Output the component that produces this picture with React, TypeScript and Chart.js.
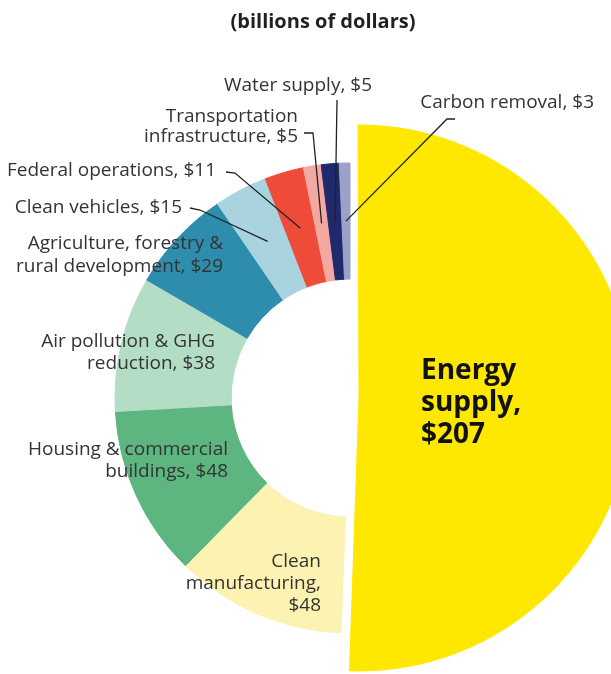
import React, { useEffect, useRef } from "react";
import { Chart, registerables } from "chart.js";

Chart.register(...registerables);

// ---- data ----
const categories = [
  "Energy supply",
  "Clean manufacturing",
  "Housing & commercial buildings",
  "Air pollution & GHG reduction",
  "Agriculture, forestry & rural development",
  "Clean vehicles",
  "Federal operations",
  "Transportation infrastructure",
  "Water supply",
  "Carbon removal",
];
const values = [207, 48, 48, 38, 29, 15, 11, 5, 5, 3];
const colors = [
  "#FFE800",
  "#FCF2B1",
  "#5DB67F",
  "#B3DDC5",
  "#2E8DAD",
  "#A8D3DF",
  "#EE4B39",
  "#F3A8A1",
  "#1F2A6C",
  "#9BA1C9",
];
const title = "(billions of dollars)";

const $ = (i: number) => "$" + values[i];
const labelLines: string[][] = [
  ["Energy", "supply,", $(0)],
  ["Clean", "manufacturing,", $(1)],
  ["Housing & commercial", "buildings, " + $(2)],
  ["Air pollution & GHG", "reduction, " + $(3)],
  ["Agriculture, forestry &", "rural development, " + $(4)],
  ["Clean vehicles, " + $(5)],
  ["Federal operations, " + $(6)],
  ["Transportation", "infrastructure, " + $(7)],
  ["Water supply, " + $(8)],
  ["Carbon removal, " + $(9)],
];

// ---- layout of labels (positions only) ----
type LabelLayout = {
  x: number;
  y: number;
  align: CanvasTextAlign;
  lh?: number;
  bold?: boolean;
  size?: number;
  leader?: number[][];
};
const labelLayout: LabelLayout[] = [
  { x: 421, y: 379, align: "left", bold: true, size: 28, lh: 32 },
  { x: 321, y: 567, align: "right", lh: 22 },
  { x: 228, y: 455, align: "right", lh: 22 },
  { x: 215, y: 347, align: "right", lh: 22 },
  { x: 223, y: 249, align: "right", lh: 23 },
  { x: 182, y: 213, align: "right", leader: [[190, 208], [200, 210]] },
  { x: 216, y: 176, align: "right", leader: [[226, 172], [235, 173]] },
  { x: 298, y: 122, align: "right", lh: 20, leader: [[304, 133], [313, 133]] },
  { x: 372, y: 91, align: "right", leader: [[337, 100]] },
  { x: 594, y: 108, align: "right", leader: [[455, 119], [447, 119]] },
];

const FONT = "'Open Sans', 'DejaVu Sans', sans-serif";
const TEXT = "#333333";

const labelPlugin = {
  id: "sliceLabels",
  afterDraw(chart: any) {
    const ctx: CanvasRenderingContext2D = chart.ctx;
    const meta = chart.getDatasetMeta(0);
    ctx.save();
    ctx.textBaseline = "alphabetic";
    // title
    ctx.font = "bold 20px " + FONT;
    ctx.fillStyle = "#231F20";
    ctx.textAlign = "center";
    ctx.fillText(title, 323, 28);

    labelLayout.forEach((L, i) => {
      if (L.leader) {
        const p = meta.data[i].getCenterPoint();
        ctx.beginPath();
        ctx.strokeStyle = "#222222";
        ctx.lineWidth = 1.3;
        ctx.moveTo(L.leader[0][0], L.leader[0][1]);
        for (let k = 1; k < L.leader.length; k++) ctx.lineTo(L.leader[k][0], L.leader[k][1]);
        ctx.lineTo(p.x, p.y);
        ctx.stroke();
      }
      const size = L.size || 19;
      ctx.font = (L.bold ? "bold " : "") + size + "px " + FONT;
      ctx.fillStyle = L.bold ? "#111111" : TEXT;
      ctx.textAlign = L.align;
      labelLines[i].forEach((line, k) => {
        ctx.fillText(line, L.x, L.y + k * (L.lh || 22));
      });
    });
    ctx.restore();
  },
};

const TRANSPARENT = "rgba(0,0,0,0)";

export default function App() {
  const refA = useRef<HTMLCanvasElement>(null);
  const refB = useRef<HTMLCanvasElement>(null);

  useEffect(() => {
    const yellowColors = colors.map((c, i) => (i === 0 ? c : TRANSPARENT));
    const ringColors = colors.map((c, i) => (i === 0 ? TRANSPARENT : c));
    const common = {
      animation: false as const,
      responsive: true,
      maintainAspectRatio: false,
      devicePixelRatio: 1,
      events: [] as any[],
      plugins: {
        legend: { display: false },
        tooltip: { enabled: false },
        title: { display: false },
      },
    };
    const chartA = new Chart(refA.current!, {
      type: "doughnut",
      data: {
        labels: categories,
        datasets: [
          {
            data: values,
            backgroundColor: yellowColors,
            borderColor: yellowColors,
            borderWidth: 1,
            clip: false as any,
          },
        ],
      },
      options: {
        ...common,
        cutout: 0,
        radius: 273,
        rotation: -0.2,
        layout: { padding: { left: 107, top: 122, right: 0, bottom: 0 } },
      } as any,
    });
    const chartB = new Chart(refB.current!, {
      type: "doughnut",
      data: {
        labels: categories,
        datasets: [
          {
            data: values,
            backgroundColor: ringColors,
            borderColor: ringColors,
            borderWidth: 1,
            clip: false as any,
          },
        ],
      },
      options: {
        ...common,
        cutout: "50.6%",
        radius: 235,
        rotation: 0,
        layout: { padding: { left: 89, top: 122, right: 0, bottom: 0 } },
      } as any,
      plugins: [labelPlugin],
    });
    return () => {
      chartA.destroy();
      chartB.destroy();
    };
  }, []);

  const layer: React.CSSProperties = {
    position: "absolute",
    left: 0,
    top: 0,
    width: 611,
    height: 674,
  };
  return (
    <div
      style={{
        position: "fixed",
        left: 0,
        top: 0,
        width: 611,
        height: 674,
        overflow: "hidden",
        background: "#ffffff",
      }}
    >
      <div style={layer}>
        <canvas ref={refA} />
      </div>
      <div style={layer}>
        <canvas ref={refB} />
      </div>
    </div>
  );
}
